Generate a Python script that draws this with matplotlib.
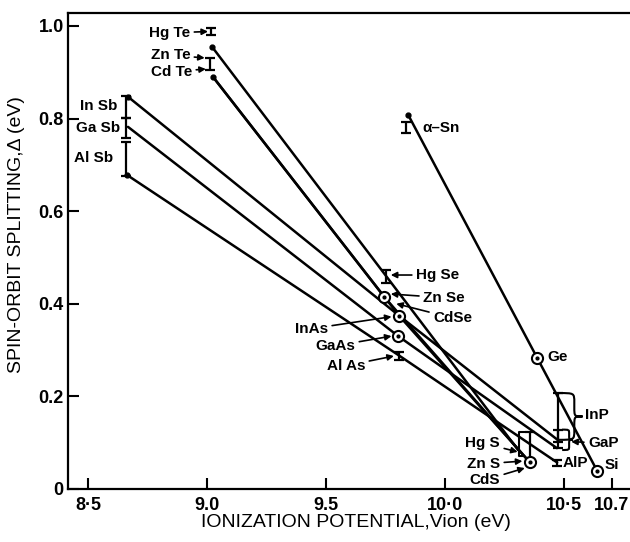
import numpy as np
import matplotlib
matplotlib.use("Agg")
import matplotlib.pyplot as plt
from matplotlib.path import Path
from matplotlib.patches import PathPatch

plt.rcParams['font.family'] = ['Liberation Sans', 'DejaVu Sans']

# lines through each family (ionization potential, spin-orbit splitting)
in_x = [8.668, 9.807, 10.475]
in_y = [0.847, 0.374, 0.105]
ga_x = [8.668, 9.803, 10.470]
ga_y = [0.782, 0.330, 0.088]
al_x = [8.664, 9.807, 10.471]
al_y = [0.678, 0.288, 0.057]
hg_x = [9.021, 9.752, 10.307]
hg_y = [0.955, 0.460, 0.084]
zn_x = [9.025, 9.744, 10.355]
zn_y = [0.890, 0.415, 0.058]
cd_x = [9.025, 9.807, 10.355]
cd_y = [0.890, 0.374, 0.058]
iv_x = [9.845, 10.387, 10.639]
iv_y = [0.808, 0.283, 0.039]

# circled points: ZnSe, InAs, GaAs, Ge, Si, ZnS
circ_x = [9.744, 9.807, 9.803, 10.387, 10.639, 10.358]
circ_y = [0.415, 0.374, 0.330, 0.283, 0.039, 0.058]

# small dots at line starts: InSb, AlSb, HgTe, CdTe, a-Sn
dot_x = [8.668, 8.664, 9.021, 9.025, 9.845]
dot_y = [0.847, 0.678, 0.955, 0.890, 0.808]

# error bars: x, low, high
bar_x = [8.660, 8.660, 8.660, 9.017, 9.013, 9.752, 9.807, 9.836, 10.475, 10.475, 10.471, 10.358]
bar_lo = [0.801, 0.758, 0.676, 0.981, 0.905, 0.445, 0.279, 0.769, 0.089, 0.102, 0.050, 0.060]
bar_hi = [0.849, 0.801, 0.749, 0.996, 0.931, 0.473, 0.296, 0.793, 0.207, 0.127, 0.062, 0.122]

# HgS bracket
hgs_x, hgs_lo, hgs_hi = 10.312, 0.070, 0.122

# braces: x, low, high (InP, GaP)
brace_x = [10.478, 10.492]
brace_lo = [0.106, 0.084]
brace_hi = [0.207, 0.128]

xticks = [8.5, 9.0, 9.5, 10.0, 10.5, 10.7]
xtick_labels = ['8·5', '9.0', '9.5', '10·0', '10·5', '10.7']
yticks = [0, 0.2, 0.4, 0.6, 0.8, 1.0]
ytick_labels = ['0', '0.2', '0.4', '0.6', '0.8', '1.0']


def brace(ax, x, y0, y1, w):
    ym = (y0 + y1) / 2
    q = (y1 - y0) * 0.2
    xv = x + 0.65 * w
    verts = [(x, y1), (xv, y1), (xv, y1), (xv, y1 - q),
             (xv, ym + q),
             (xv, ym), (xv, ym), (x + w, ym),
             (xv, ym), (xv, ym), (xv, ym - q),
             (xv, y0 + q),
             (xv, y0), (xv, y0), (x, y0)]
    codes = [Path.MOVETO] + [Path.CURVE4] * 3 + [Path.LINETO] + [Path.CURVE4] * 6 + \
            [Path.LINETO] + [Path.CURVE4] * 3
    ax.add_patch(PathPatch(Path(verts, codes), fill=False, lw=1.5, color='black'))


fig = plt.figure(figsize=(6.3, 5.42), dpi=100)
ax = fig.add_axes([0.108, 0.098, 0.892, 0.878])

for xs, ys in [(in_x, in_y), (ga_x, ga_y), (al_x, al_y), (hg_x, hg_y),
               (zn_x, zn_y), (cd_x, cd_y), (iv_x, iv_y)]:
    ax.plot(xs, ys, color='black', lw=1.8, solid_capstyle='round')

bar_c = (np.array(bar_lo) + np.array(bar_hi)) / 2
bar_e = (np.array(bar_hi) - np.array(bar_lo)) / 2
ax.errorbar(bar_x, bar_c, yerr=bar_e, fmt='none', ecolor='black', elinewidth=1.6,
            capsize=3.5, capthick=1.6)

ax.plot([hgs_x + 0.02, hgs_x, hgs_x, hgs_x + 0.02], [hgs_hi, hgs_hi, hgs_lo, hgs_lo],
        color='black', lw=1.5)

for bx, lo, hi in zip(brace_x, brace_lo, brace_hi):
    brace(ax, bx, lo, hi, 0.1 if hi - lo > 0.08 else 0.045)

ax.plot(circ_x, circ_y, 'o', ms=8, mfc='white', mec='black', mew=1.5)
ax.plot(circ_x, circ_y, 'o', ms=2, color='black')
ax.plot(dot_x, dot_y, 'o', ms=3.5, color='black')

lab = dict(fontsize=11, fontweight='bold', va='center')
arw = dict(arrowstyle='-|>', color='black', lw=1.2, mutation_scale=9, shrinkA=1, shrinkB=0)

# labels with arrows
for txt, tx, ty, px, py, ha in [
        ('Hg Te', 8.929, 0.985, 9.004, 0.988, 'right'),
        ('Zn Te', 8.929, 0.937, 8.990, 0.931, 'right'),
        ('Cd Te', 8.937, 0.901, 8.995, 0.907, 'right'),
        ('Hg Se', 9.878, 0.462, 9.772, 0.462, 'left'),
        ('Zn Se', 9.908, 0.413, 9.772, 0.421, 'left'),
        ('CdSe', 9.950, 0.369, 9.795, 0.400, 'left'),
        ('InAs', 9.508, 0.346, 9.775, 0.372, 'right'),
        ('GaAs', 9.622, 0.309, 9.775, 0.330, 'right'),
        ('Al As', 9.664, 0.266, 9.785, 0.287, 'right'),
        ('GaP', 10.601, 0.099, 10.530, 0.102, 'left'),
        ('Hg S', 10.231, 0.099, 10.305, 0.080, 'right'),
        ('Zn S', 10.231, 0.054, 10.325, 0.060, 'right'),
        ('CdS', 10.231, 0.019, 10.335, 0.045, 'right')]:
    ax.annotate(txt, xy=(px, py), xytext=(tx, ty), ha=ha, arrowprops=arw, **lab)

# plain labels
for txt, tx, ty, ha in [
        ('In Sb', 8.622, 0.827, 'right'),
        ('Ga Sb', 8.634, 0.780, 'right'),
        ('Al Sb', 8.605, 0.715, 'right'),
        ('α–Sn', 9.903, 0.780, 'left'),
        ('Ge', 10.429, 0.285, 'left'),
        ('InP', 10.588, 0.160, 'left'),
        ('AlP', 10.496, 0.056, 'left'),
        ('Si', 10.672, 0.052, 'left')]:
    ax.text(tx, ty, txt, ha=ha, **lab)

ax.set_xlim(8.416, 10.777)
ax.set_ylim(0, 1.028)
ax.set_xticks(xticks)
ax.set_xticklabels(xtick_labels)
ax.set_yticks(yticks)
ax.set_yticklabels(ytick_labels)
ax.tick_params(direction='in', length=8, width=1.5, labelsize=13, pad=3)
for t in ax.get_xticklabels() + ax.get_yticklabels():
    t.set_fontweight('bold')
ax.tick_params(axis='x', pad=6)
ax.spines['right'].set_visible(False)
for s in ['left', 'bottom', 'top']:
    ax.spines[s].set_linewidth(1.6)

ax.set_xlabel('IONIZATION POTENTIAL,Vion (eV)', fontsize=14)
ax.set_ylabel('SPIN-ORBIT SPLITTING,Δ (eV)', fontsize=14)
ax.xaxis.label.set_va('center')
ax.yaxis.label.set_va('center')
ax.xaxis.set_label_coords(0.512, -0.071)
ax.yaxis.set_label_coords(-0.091, 0.534)

fig.savefig('out.png', dpi=100)
